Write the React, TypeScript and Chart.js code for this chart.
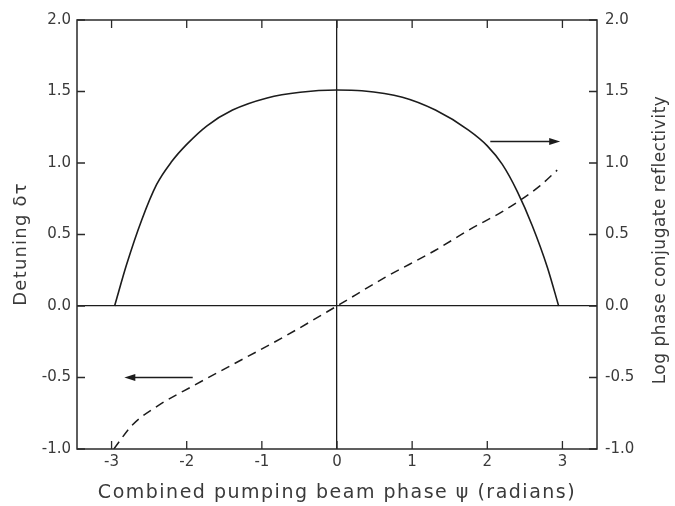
import React, { useEffect, useRef } from "react";
import { Chart, registerables } from "chart.js";

Chart.register(...registerables);

// Combined pumping beam phase ψ (radians) for the reflectivity curve
const PSI_REFL = [-2.96, -2.8, -2.6, -2.4, -2.2, -2.0, -1.73, -1.39, -0.93, -0.49, 0, 0.33, 0.87, 1.31, 1.75, 2.0, 2.2, 2.4, 2.6, 2.8, 2.95];
// Log phase conjugate reflectivity (right axis)
const LOG_REFL = [0, 0.29, 0.6, 0.85, 1.01, 1.13, 1.26, 1.37, 1.455, 1.495, 1.51, 1.505, 1.46, 1.37, 1.23, 1.12, 0.99, 0.8, 0.56, 0.27, 0];

// Phase values for the detuning curve
const PSI_DETUNE = [-2.97, -2.72, -2.36, -1.92, -1.39, -0.72, 0, 0.64, 1.31, 1.75, 2.2, 2.44, 2.7, 2.93];
// Detuning δτ (left axis)
const DETUNING = [-1.0, -0.83, -0.69, -0.56, -0.41, -0.22, 0, 0.2, 0.39, 0.53, 0.66, 0.74, 0.84, 0.95];

// Axis ranges and tick spacing
const PSI_RANGE = [-3.46, 3.46];
const Y_RANGE = [-1, 2];
const PSI_STEP = 1;
const Y_STEP = 0.5;

// Arrows pointing each curve to its axis
const ARROW_FROM = [2.04, -1.92];
const ARROW_TO = [2.97, -2.83];
const ARROW_LEVEL = [1.15, -0.5];
const ARROW_AXIS = ["y1", "y"];

const X_TITLE = "Combined pumping beam phase \u03c8 (radians)";
const LEFT_TITLE = "Detuning \u03b4\u03c4";
const RIGHT_TITLE = "Log phase conjugate reflectivity";

const FONT = "'DejaVu Sans', sans-serif";
const INK = "#1c1c1c";
const TEXT = "#3a3a3a";

const framePlugin = {
  id: "frame",
  beforeDraw(chart: any) {
    const { ctx, width, height } = chart;
    ctx.save();
    ctx.fillStyle = "#ffffff";
    ctx.fillRect(0, 0, width, height);
    ctx.restore();
  },
  afterDraw(chart: any) {
    const { ctx, chartArea: a, scales } = chart;
    ctx.save();
    ctx.strokeStyle = "#2a2a2a";
    ctx.lineWidth = 1.5;
    ctx.strokeRect(a.left, a.top, a.right - a.left, a.bottom - a.top);

    // inward tick marks on all four sides
    const tl = 8;
    ctx.lineWidth = 1.3;
    ctx.beginPath();
    for (const t of scales.x.ticks) {
      const px = scales.x.getPixelForValue(t.value);
      ctx.moveTo(px, a.bottom);
      ctx.lineTo(px, a.bottom - tl);
      ctx.moveTo(px, a.top);
      ctx.lineTo(px, a.top + tl);
    }
    for (const t of scales.y.ticks) {
      const py = scales.y.getPixelForValue(t.value);
      ctx.moveTo(a.left, py);
      ctx.lineTo(a.left + tl, py);
    }
    for (const t of scales.y1.ticks) {
      const py = scales.y1.getPixelForValue(t.value);
      ctx.moveTo(a.right, py);
      ctx.lineTo(a.right - tl, py);
    }
    ctx.stroke();

    // arrows
    ctx.fillStyle = INK;
    ctx.strokeStyle = INK;
    ctx.lineWidth = 1.5;
    for (let i = 0; i < ARROW_FROM.length; i++) {
      const ys = scales[ARROW_AXIS[i]];
      const x0 = scales.x.getPixelForValue(ARROW_FROM[i]);
      const x1 = scales.x.getPixelForValue(ARROW_TO[i]);
      const y = ys.getPixelForValue(ARROW_LEVEL[i]);
      const dir = Math.sign(x1 - x0);
      ctx.beginPath();
      ctx.moveTo(x0, y);
      ctx.lineTo(x1 - dir * 8, y);
      ctx.stroke();
      ctx.beginPath();
      ctx.moveTo(x1, y);
      ctx.lineTo(x1 - dir * 11, y - 3.5);
      ctx.lineTo(x1 - dir * 11, y + 3.5);
      ctx.closePath();
      ctx.fill();
    }

    // axis titles
    ctx.fillStyle = TEXT;
    ctx.textAlign = "center";
    ctx.textBaseline = "middle";

    ctx.font = `19px ${FONT}`;
    (ctx as any).letterSpacing = "1.5px";
    ctx.fillText(X_TITLE, (a.left + a.right) / 2, 493);

    ctx.save();
    ctx.translate(21, 244);
    ctx.rotate(-Math.PI / 2);
    ctx.font = `18px ${FONT}`;
    (ctx as any).letterSpacing = "1.2px";
    ctx.fillText(LEFT_TITLE, 0, 0);
    ctx.restore();

    ctx.save();
    ctx.translate(661, 240);
    ctx.rotate(-Math.PI / 2);
    ctx.font = `17px ${FONT}`;
    (ctx as any).letterSpacing = "0.5px";
    ctx.fillText(RIGHT_TITLE, 0, 0);
    ctx.restore();

    ctx.restore();
  },
};

const zeroLine = (c: any) => (c.tick && c.tick.value === 0 ? INK : "rgba(0,0,0,0)");

export default function App() {
  const ref = useRef<HTMLCanvasElement | null>(null);

  useEffect(() => {
    document.body.style.margin = "0";
    const canvas = ref.current;
    if (!canvas) return;

    const tickFont = { family: FONT, size: 15 };
    const yTicks = {
      stepSize: Y_STEP,
      includeBounds: false,
      color: TEXT,
      font: tickFont,
      callback: (v: any) => Number(v).toFixed(1),
    };

    const chart = new Chart(canvas, {
      type: "line",
      data: {
        datasets: [
          {
            label: RIGHT_TITLE,
            data: PSI_REFL.map((x, i) => ({ x, y: LOG_REFL[i] })),
            yAxisID: "y1",
            borderColor: INK,
            borderWidth: 1.6,
            pointRadius: 0,
            fill: false,
            cubicInterpolationMode: "monotone",
          },
          {
            label: LEFT_TITLE,
            data: PSI_DETUNE.map((x, i) => ({ x, y: DETUNING[i] })),
            yAxisID: "y",
            borderColor: INK,
            borderWidth: 1.5,
            borderDash: [9, 6],
            pointRadius: 0,
            fill: false,
            cubicInterpolationMode: "monotone",
          },
        ],
      },
      options: {
        animation: false,
        responsive: true,
        maintainAspectRatio: false,
        layout: { padding: { top: 20, left: 0, right: 0, bottom: 0 } },
        plugins: { legend: { display: false }, tooltip: { enabled: false } },
        scales: {
          x: {
            type: "linear",
            position: "bottom",
            min: PSI_RANGE[0],
            max: PSI_RANGE[1],
            ticks: {
              stepSize: PSI_STEP,
              includeBounds: false,
              autoSkip: false,
              maxRotation: 0,
              color: TEXT,
              font: tickFont,
              padding: 4,
              callback: (v: any) => String(Math.round(Number(v))),
            },
            grid: { drawTicks: false, color: zeroLine, lineWidth: 1.3 },
            border: { display: false },
            afterFit: (s: any) => {
              s.height = 57;
            },
          },
          y: {
            type: "linear",
            position: "left",
            min: Y_RANGE[0],
            max: Y_RANGE[1],
            ticks: { ...yTicks, padding: 6 },
            grid: { drawTicks: false, color: zeroLine, lineWidth: 1.3 },
            border: { display: false },
            afterFit: (s: any) => {
              s.width = 77;
            },
          },
          y1: {
            type: "linear",
            position: "right",
            min: Y_RANGE[0],
            max: Y_RANGE[1],
            ticks: { ...yTicks, padding: 8 },
            grid: { display: false, drawTicks: false },
            border: { display: false },
            afterFit: (s: any) => {
              s.width = 78;
            },
          },
        },
      },
      plugins: [framePlugin],
    } as any);

    return () => chart.destroy();
  }, []);

  return (
    <div style={{ position: "fixed", left: 0, top: 0, width: 675, height: 506 }}>
      <canvas ref={ref} />
    </div>
  );
}
